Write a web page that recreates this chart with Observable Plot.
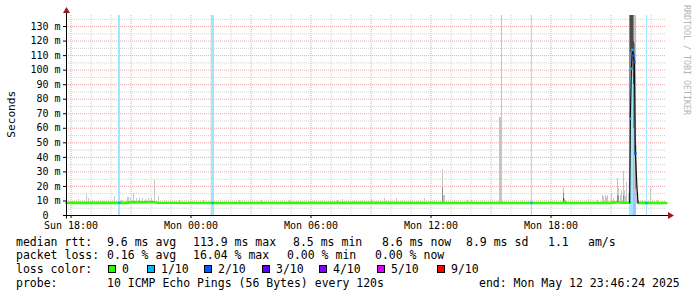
<!DOCTYPE html>
<html><head><meta charset="utf-8">
<script src="https://cdn.jsdelivr.net/npm/d3@7"></script>
<script src="https://cdn.jsdelivr.net/npm/@observablehq/plot@0.6"></script>
<style>
html,body{margin:0;padding:0;background:#fff;}
#wrap{position:relative;width:697px;height:297px;overflow:hidden;background:#fff;}
#wrap svg{display:block;}
#legend{position:absolute;left:0;top:0;width:697px;height:297px;font-family:"DejaVu Sans Mono",monospace;font-size:11.5px;color:#000;}
#legend .ln{position:absolute;white-space:pre;line-height:14px;}
#legend .sq{position:absolute;width:8px;height:8px;box-sizing:border-box;border:1px solid #000;}
</style></head><body><div id="wrap"><div id="legend"></div></div>
<script>
// ---------- data ----------
const startTime = "11T17:46:24";
const endTime = "12T23:46:24";
const yMax = 137.6;

const xTickTimes = ["11T18:00", "12T00:00", "12T06:00", "12T12:00", "12T18:00"];
const xTickLabels = ["Sun 18:00", "Mon 00:00", "Mon 06:00", "Mon 12:00", "Mon 18:00"];
const yTicks = [0, 10, 20, 30, 40, 50, 60, 70, 80, 90, 100, 110, 120, 130];
const yTickLabels = ["0", "10 m", "20 m", "30 m", "40 m", "50 m", "60 m", "70 m", "80 m", "90 m", "100 m", "110 m", "120 m", "130 m"];

const lossColor = ["#26ff00", "#00b8ff", "#0059ff", "#5e00ff", "#7e00ff", "#dd00ff", "#ff0000"];
const lossLabel = ["0", "1/10", "2/10", "3/10", "4/10", "5/10", "9/10"];

// loss bars (packet loss periods)
const lossStart = ["11T20:21", "12T01:00", "12T17:00", "12T21:56", "12T22:06", "12T22:45"];
const lossEnd   = ["11T20:29", "12T01:09", "12T17:03", "12T22:06", "12T22:15", "12T22:48"];
const lossLevel = [1, 1, 1, 1, 2, 1];

// smoke (ping spread) light layer
const smokeTime = ["11T18:10","11T18:25","11T18:49","11T18:55","11T19:05","11T19:40","11T20:13","11T20:33","11T20:52","11T20:55","11T21:01","11T21:10","11T21:19","11T21:28","11T21:37","11T21:46","11T21:55","11T22:04","11T22:12","11T22:25","11T22:49","11T23:28",
 "12T00:40","12T02:28","12T03:34","12T04:58","12T06:13","12T07:20","12T07:37","12T08:13","12T09:03","12T09:43","12T10:19","12T11:00","12T11:43","12T12:13","12T12:37","12T12:40","12T12:43","12T13:13","12T13:52","12T14:04","12T15:28","12T15:31","12T15:34","12T16:37","12T18:40","12T18:43","12T19:53","12T20:20","12T20:37","12T20:40","12T20:44","12T20:47","12T20:50","12T21:04","12T21:10","12T21:21","12T21:25","12T21:30","12T21:33","12T21:38","12T21:42","12T21:45","12T21:48","12T21:53","12T21:58","12T22:01","12T22:04","12T22:07","12T22:10","12T22:13","12T22:16","12T22:19","12T22:22","12T22:37","12T22:59","12T23:20"];
const smokeLow = [8.4,8.4,8.4,8.4,8.4,8.4,8.4,8.4,8.4,8.4,8.4,8.4,8.4,8.4,8.4,8.4,8.4,8.4,8.4,8.4,8.4,8.4,
 8.4,8.4,8.4,8.4,8.4,8.4,8.4,8.4,8.4,8.4,8.4,8.4,8.4,8.4,8.4,8.4,8.4,8.4,8.4,8.4,8.4,8.4,8.4,8.4,8.4,8.4,8.4,8.4,8.4,8.4,8.4,8.4,8.4,8.4,8.4,8.4,8.4,8.4,8.4,8.4,8.4,8.4,8.4,8.4,8.4,95,100,95,40,15,8.4,8.4,8.4,8.4,8.4,8.4];
const smokeHigh = [9.8,11.0,14.9,11.7,10.2,9.9,13.0,10.3,12.6,12.6,12.0,14.9,11.7,11.4,11.7,11.0,11.7,11.5,24.0,13.0,10.5,10.3,
 10.0,10.0,10.2,10.0,10.3,10.4,10.8,10.5,11.0,11.4,11.4,10.3,11.4,10.5,31.6,13.8,13.8,10.5,10.6,10.4,67.6,67.6,150,10.3,19.5,12.0,11.0,10.5,13.8,13.0,13.8,12.5,13.8,15.3,12.0,25.2,18.6,14.0,17.2,30.3,17.0,13.0,22.9,14.9,150,150,150,150,150,150,48,48,12,10.5,18.3,10.0];

// smoke mid layer
const midTime = ["12T12:37","12T18:40","12T21:21","12T21:25","12T21:38","12T21:58","12T22:01","12T22:04","12T22:07","12T22:10","12T22:13","12T22:16"];
const midLow  = [8.4, 8.4, 8.4, 8.4, 8.4, 66, 100, 105, 100, 60, 42, 18];
const midHigh = [19.5, 15, 14, 13, 14, 150, 150, 150, 150, 150, 118, 48];

// smoke dark layer
const darkTime = ["12T18:40","12T22:01","12T22:04","12T22:07","12T22:10"];
const darkLow  = [9, 112, 114, 112, 90];
const darkHigh = [11.7, 150, 150, 150, 120];

// median rtt (loss 0 stretches)
const medTime  = ["11T17:46","11T20:50","11T21:00","11T21:40","11T22:05","11T22:20","12T02:00","12T09:00","12T12:35","12T18:38","12T18:41","12T18:44","12T21:00","12T21:20","12T21:35","12T21:56","12T22:00","12T22:21","12T23:46"];
const medValue = [8.7, 8.7, 9.2, 9.0, 9.3, 8.8, 8.6, 8.7, 8.6, 8.6, 9.6, 8.6, 8.7, 9.1, 8.8, 8.8, null, 8.7, 8.6];

// median rtt through the spike
const spikeTime  = ["12T21:56","12T21:58","12T22:01","12T22:04","12T22:07","12T22:10","12T22:13","12T22:18","12T22:21"];
const spikeValue = [8.8, 66.7, 101, 113.9, 110, 105.5, 42.6, 18.6, 8.7];
const spikeLoss  = [0, 1, 1, 1, 2, 2, 2, 0, 0];

// median points coloured by loss on the flat line
const lossMedTime  = ["11T20:25", "12T01:04", "12T17:01", "12T22:46"];
const lossMedValue = [8.7, 8.6, 8.6, 8.6];
const lossMedLevel = [1, 1, 1, 1];

// legend texts
const rttItems  = ["median rtt:", "9.6 ms avg", "113.9 ms max", "8.5 ms min", "8.6 ms now", "8.9 ms sd", "1.1", "am/s"];
const lossItems = ["packet loss:", "0.16 % avg", "16.04 % max", "0.00 % min", "0.00 % now"];
const probeItems = ["probe:", "10 ICMP Echo Pings (56 Bytes) every 120s", "end: Mon May 12 23:46:24 2025"];

// ---------- build ----------
const T = s => new Date(`2025-05-${s}Z`);
const x0 = T(startTime), x1 = T(endTime);
const half = 90e3; // half of one 3-minute pixel column

const lossBars = lossStart.map((s, i) => ({s: T(s), e: T(lossEnd[i]), c: d3.interpolateRgb("#ffffff", lossColor[lossLevel[i]])(0.37)}));
const smoke = smokeTime.map((t, i) => ({t: T(t), lo: smokeLow[i], hi: smokeHigh[i]}));
const mid = midTime.map((t, i) => ({t: T(t), lo: midLow[i], hi: midHigh[i]}));
const dark = darkTime.map((t, i) => ({t: T(t), lo: darkLow[i], hi: darkHigh[i]}));
const med = medTime.map((t, i) => ({t: T(t), v: medValue[i]}));
const spike = spikeTime.map((t, i) => ({t: T(t), v: spikeValue[i], l: spikeLoss[i]}));
const lossDots = spike.filter(d => d.l > 0).concat(lossMedTime.map((t, i) => ({t: T(t), v: lossMedValue[i], l: lossMedLevel[i]})));

const hours = d3.utcHour.range(d3.utcHour.ceil(x0), x1);
const minorHours = hours.filter(h => h.getUTCHours() % 3 !== 0);
const majorHours = hours.filter(h => h.getUTCHours() % 3 === 0);
const minorY = d3.range(5, yMax, 10);
const majorY = d3.range(10, yMax, 10);

const colRect = (data, fill) => Plot.rect(data, {
  x1: d => new Date(+d.t - half), x2: d => new Date(+d.t + half),
  y1: "lo", y2: "hi", fill, clip: true, shapeRendering: "crispEdges"
});

const chart = Plot.plot({
  width: 697, height: 232,
  marginTop: 15, marginBottom: 17, marginLeft: 66, marginRight: 31,
  style: {fontFamily: "'DejaVu Sans Mono', monospace", fontSize: "10px", background: "#fff", color: "#000", overflow: "visible"},
  color: {type: "identity"},
  x: {type: "utc", domain: [x0, x1], ticks: xTickTimes.map(T),
      tickFormat: d => xTickLabels[xTickTimes.findIndex(s => +T(s) === +d)],
      tickSize: 3, tickPadding: 3, label: null},
  y: {domain: [0, yMax], ticks: yTicks,
      tickFormat: d => { const l = yTickLabels[yTicks.indexOf(d)]; return d === 0 ? l + "\u00a0\u00a0" : l; },
      tickSize: 3, tickPadding: 3, label: null},
  marks: [
    Plot.ruleY(minorY, {stroke: "#d2d2d2", strokeDasharray: "1,1"}),
    Plot.ruleX(minorHours, {stroke: "#d2d2d2", strokeDasharray: "1,1"}),
    Plot.ruleY(majorY, {stroke: "#eba8a8", strokeDasharray: "1,1"}),
    Plot.ruleX(majorHours, {stroke: "#eba8a8", strokeDasharray: "1,1"}),
    Plot.rect(lossBars, {x1: "s", x2: "e", y1: 0, y2: yMax, fill: "c", shapeRendering: "crispEdges"}),
    colRect(smoke, "#c6c6c6"),
    colRect(mid, "#8c8c8c"),
    colRect(dark, "#4a4a4a"),
    Plot.line(med, {x: "t", y: "v", stroke: "#26ff00", strokeWidth: 2.6}),
    Plot.line(spike, {x: "t", y: "v", stroke: "#111", strokeWidth: 1.2}),
    Plot.dot(lossDots, {x: "t", y: "v", symbol: "square", r: 1.4, fill: d => lossColor[d.l], stroke: null})
  ]
});

document.getElementById("wrap").prepend(chart);

// axes lines, arrows and side texts
const svg = d3.select(chart);
const sx = chart.scale("x"), sy = chart.scale("y");
const X0 = Math.floor(sx.apply(x0)) + 0.5, Y0 = Math.round(sy.apply(0)) + 0.5, YT = sy.apply(yMax);
const XR = sx.apply(x1);
const g = svg.append("g");
g.append("line").attr("x1", X0 - 3).attr("x2", XR + 3).attr("y1", Y0).attr("y2", Y0).attr("stroke", "#000");
g.append("line").attr("x1", X0).attr("x2", X0).attr("y1", Y0 + 3).attr("y2", YT - 3).attr("stroke", "#000");
g.append("path").attr("d", `M${X0},${YT - 8}L${X0 - 3.5},${YT - 2}L${X0 + 3.5},${YT - 2}Z`).attr("fill", "#a01a1a");
g.append("path").attr("d", `M${XR + 8},${Y0}L${XR + 2},${Y0 - 3.5}L${XR + 2},${Y0 + 3.5}Z`).attr("fill", "#a01a1a");
g.append("text").attr("transform", `translate(15,${(Y0 + YT) / 2 - 1}) rotate(-90)`).attr("text-anchor", "middle")
  .attr("font-family", "'DejaVu Sans Mono', monospace").attr("font-size", 11.2).attr("fill", "#000").text("Seconds");
g.append("text").attr("transform", `translate(684,60) rotate(90)`).attr("text-anchor", "middle")
  .attr("font-family", "'DejaVu Sans Mono', monospace").attr("font-size", 8.3).attr("fill", "#b4b4b4").text("RRDTOOL / TOBI OETIKER");

// legend
const legend = document.getElementById("legend");
function addText(txt, left, top) {
  const s = document.createElement("div");
  s.className = "ln"; s.style.left = left + "px"; s.style.top = top + "px"; s.textContent = txt;
  legend.appendChild(s);
}
const rttLeft = [16, 107, 193, 293, 382, 466, 548, 588];
rttItems.forEach((t, i) => addText(t, rttLeft[i], 234.5));
const lossLeft = [16, 107, 193, 287, 375];
lossItems.forEach((t, i) => addText(t, lossLeft[i], 248.3));
addText("loss color:", 16, 262);
const sqLeft = [108, 147, 204, 262, 319, 377, 437];
lossColor.forEach((c, i) => {
  const q = document.createElement("div");
  q.className = "sq"; q.style.left = sqLeft[i] + "px"; q.style.top = "265px"; q.style.background = c;
  legend.appendChild(q);
  addText(lossLabel[i], sqLeft[i] + 14, 262);
});
const probeLeft = [16, 107, 479];
probeItems.forEach((t, i) => addText(t, probeLeft[i], 275.7));
</script></body></html>
